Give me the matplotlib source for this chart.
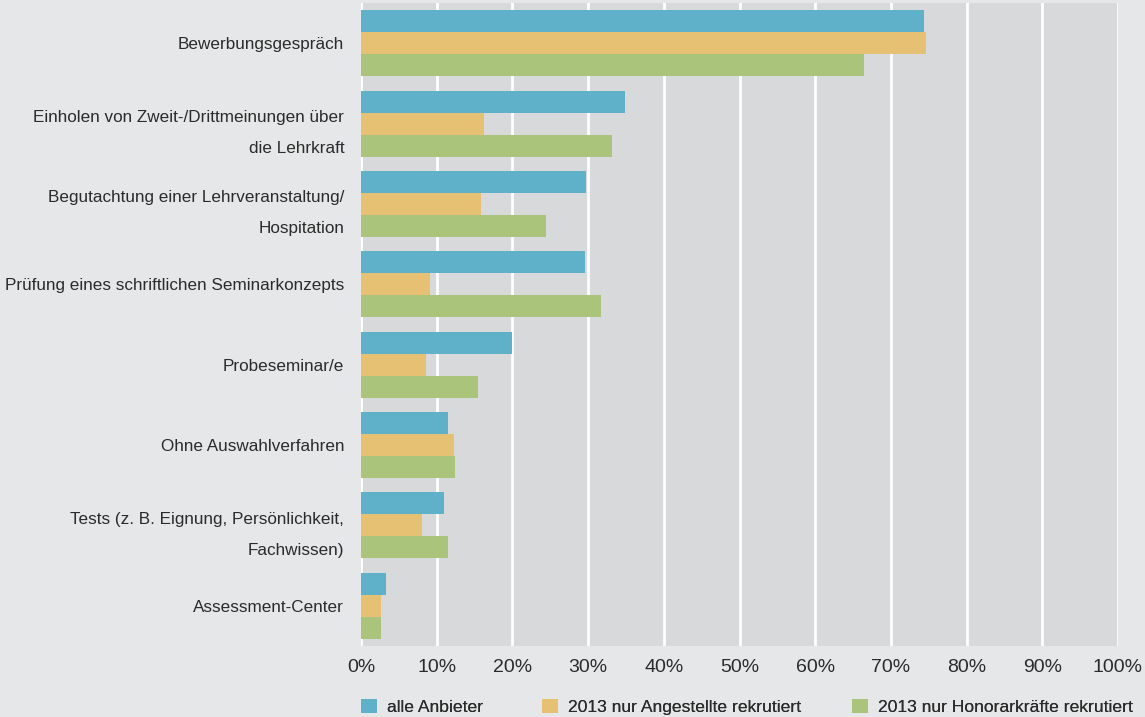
import matplotlib
matplotlib.use("Agg")
import matplotlib.pyplot as plt
import numpy as np
from matplotlib.ticker import FuncFormatter

categories = [
    "Bewerbungsgespräch",
    "Einholen von Zweit-/Drittmeinungen über\ndie Lehrkraft",
    "Begutachtung einer Lehrveranstaltung/\nHospitation",
    "Prüfung eines schriftlichen Seminarkonzepts",
    "Probeseminar/e",
    "Ohne Auswahlverfahren",
    "Tests (z. B. Eignung, Persönlichkeit,\nFachwissen)",
    "Assessment-Center",
]
series_names = ["alle Anbieter", "2013 nur Angestellte rekrutiert", "2013 nur Honorarkräfte rekrutiert"]
alle = [74.4, 34.9, 29.7, 29.6, 19.9, 11.5, 11.0, 3.3]
angestellte = [74.6, 16.2, 15.9, 9.1, 8.6, 12.3, 8.1, 2.6]
honorar = [66.4, 33.2, 24.4, 31.7, 15.5, 12.4, 11.5, 2.6]
xticks = list(range(0, 101, 10))

colors = ["#5fb0c9", "#e7c173", "#aac47c"]
fig_bg = "#e6e7e8"
ax_bg = "#d8d9db"
txt = "#2b2b2b"

plt.rcParams['font.family'] = ['Liberation Sans', 'DejaVu Sans']

W, H = 1145, 717
fig = plt.figure(figsize=(W / 100, H / 100), dpi=100, facecolor=fig_bg)
ax = fig.add_axes([361 / W, 1 - 646 / H, (1118 - 361) / W, (646 - 3) / H])
ax.set_facecolor(ax_bg)

y = np.arange(len(categories))
h = 0.274
bars = []
for i, (vals, c, name) in enumerate(zip([alle, angestellte, honorar], colors, series_names)):
    b = ax.barh(y + (i - 1) * h, vals, height=h, color=c, label=name, zorder=3)
    bars.append(b)

ax.set_xlim(0, 100)
ax.set_ylim(len(categories) - 0.5, -0.5)
ax.set_xticks(xticks)
ax.xaxis.set_major_formatter(FuncFormatter(lambda v, p: f"{int(v)}%"))
ax.set_yticks(y)
ax.set_yticklabels(categories, linespacing=2.3)
ax.tick_params(axis='both', length=0, colors=txt)
ax.tick_params(axis='x', pad=9, labelsize=14.0)
ax.tick_params(axis='y', pad=12, labelsize=12.3)
ax.grid(axis='x', color='white', linewidth=2, zorder=1)
ax.set_axisbelow(True)
for s in ax.spines.values():
    s.set_visible(False)

legend_x = [361, 542, 852]
for b, name, lx in zip(bars, series_names, legend_x):
    lg = fig.legend(handles=[b], labels=[name], loc='center left',
                    bbox_to_anchor=(lx / W, 1 - 707 / H), frameon=False,
                    fontsize=12.6, handlelength=0.9, handleheight=0.9,
                    handletextpad=0.6, borderpad=0, borderaxespad=0,
                    labelcolor=txt)
    fig.add_artist(lg)

fig.savefig("out.png", dpi=100, facecolor=fig_bg)
